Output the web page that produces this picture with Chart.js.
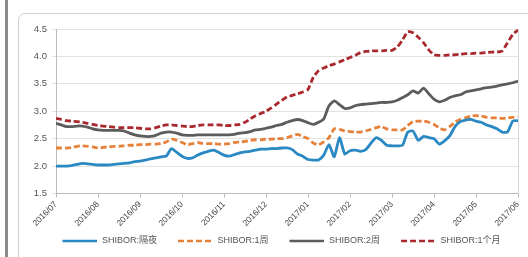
<!DOCTYPE html>
<html>
<head>
<meta charset="utf-8">
<script src="https://cdn.jsdelivr.net/npm/chart.js@4/dist/chart.umd.min.js"></script>
<style>
  html, body { margin: 0; padding: 0; background: #fff; }
  #wrap { position: relative; width: 528px; height: 257px; overflow: hidden; }
  #bar { position: absolute; left: 5px; top: 0; width: 3px; height: 257px; background: #8a8a8a; }
  #frame { position: absolute; left: 18px; top: 13px; width: 560px; height: 300px; border: 1px solid #d0d0d0; border-radius: 7px; }
  canvas { position: absolute; left: 0; top: 0; }
</style>
</head>
<body>
<div id="wrap">
  <div id="bar"></div>
  <div id="frame"></div>
  <canvas id="myChart" width="528" height="257"></canvas>
</div>
<script>
// month labels, one per tick
const months = ["2016/07", "2016/08", "2016/09", "2016/10", "2016/11", "2016/12",
                "2017/01", "2017/02", "2017/03", "2017/04", "2017/05", "2017/06"];

// values sampled every 1/8 month from 2016/07, one row per month
const overnight = [
    2.00, 2.00, 2.00, 2.01, 2.03, 2.05, 2.04, 2.03,
    2.02, 2.02, 2.02, 2.03, 2.04, 2.05, 2.06, 2.08,
    2.09, 2.11, 2.13, 2.15, 2.17, 2.18, 2.32, 2.25,
    2.18, 2.14, 2.15, 2.20, 2.24, 2.27, 2.29, 2.25,
    2.20, 2.18, 2.21, 2.24, 2.26, 2.27, 2.29, 2.31,
    2.31, 2.32, 2.32, 2.33, 2.33, 2.30, 2.22, 2.18,
    2.12, 2.11, 2.11, 2.20, 2.39, 2.17, 2.52, 2.22,
    2.28, 2.29, 2.27, 2.30, 2.42, 2.52, 2.47, 2.38,
    2.37, 2.37, 2.38, 2.62, 2.64, 2.47, 2.54, 2.52,
    2.50, 2.40, 2.46, 2.55, 2.72, 2.81, 2.84, 2.85,
    2.82, 2.80, 2.75, 2.72, 2.68, 2.62, 2.62, 2.82,
    2.83
];
const week1 = [
    2.33, 2.33, 2.33, 2.34, 2.36, 2.37, 2.36, 2.35,
    2.33, 2.34, 2.35, 2.36, 2.36, 2.37, 2.38, 2.38,
    2.39, 2.39, 2.40, 2.40, 2.41, 2.44, 2.49, 2.47,
    2.43, 2.39, 2.41, 2.43, 2.41, 2.41, 2.41, 2.40,
    2.40, 2.41, 2.43, 2.44, 2.45, 2.47, 2.48, 2.48,
    2.49, 2.49, 2.50, 2.50, 2.52, 2.55, 2.58, 2.54,
    2.50, 2.42, 2.39, 2.44, 2.52, 2.68, 2.67, 2.64,
    2.63, 2.62, 2.62, 2.64, 2.67, 2.70, 2.72, 2.68,
    2.66, 2.66, 2.66, 2.74, 2.81, 2.82, 2.82, 2.80,
    2.76, 2.70, 2.66, 2.72, 2.80, 2.85, 2.88, 2.91,
    2.92, 2.91, 2.89, 2.88, 2.88, 2.87, 2.88, 2.89,
    2.90
];
const week2 = [
    2.78, 2.75, 2.72, 2.72, 2.73, 2.73, 2.71, 2.68,
    2.66, 2.65, 2.65, 2.65, 2.65, 2.64, 2.60, 2.57,
    2.55, 2.54, 2.54, 2.56, 2.60, 2.62, 2.62, 2.60,
    2.57, 2.56, 2.56, 2.57, 2.57, 2.57, 2.57, 2.57,
    2.57, 2.57, 2.58, 2.60, 2.61, 2.63, 2.66, 2.67,
    2.69, 2.71, 2.74, 2.76, 2.80, 2.83, 2.85, 2.83,
    2.79, 2.76, 2.80, 2.86, 3.10, 3.19, 3.12, 3.05,
    3.06, 3.10, 3.12, 3.13, 3.14, 3.15, 3.16, 3.16,
    3.17, 3.20, 3.25, 3.30, 3.37, 3.33, 3.42, 3.32,
    3.22, 3.17, 3.20, 3.25, 3.28, 3.30, 3.35, 3.37,
    3.39, 3.41, 3.43, 3.44, 3.46, 3.48, 3.50, 3.52,
    3.55
];
const month1 = [
    2.87, 2.85, 2.83, 2.82, 2.81, 2.80, 2.78, 2.76,
    2.74, 2.73, 2.72, 2.71, 2.70, 2.70, 2.70, 2.70,
    2.69, 2.68, 2.68, 2.70, 2.73, 2.75, 2.75, 2.74,
    2.73, 2.72, 2.72, 2.74, 2.75, 2.75, 2.75, 2.75,
    2.74, 2.74, 2.75, 2.76, 2.80, 2.86, 2.92, 2.96,
    3.00, 3.06, 3.13, 3.20, 3.26, 3.29, 3.32, 3.35,
    3.40, 3.62, 3.74, 3.79, 3.83, 3.86, 3.90, 3.94,
    3.98, 4.02, 4.07, 4.09, 4.10, 4.10, 4.10, 4.11,
    4.11, 4.17, 4.30, 4.45, 4.43, 4.35, 4.25, 4.12,
    4.03, 4.02, 4.02, 4.03, 4.03, 4.04, 4.05, 4.05,
    4.06, 4.06, 4.07, 4.08, 4.08, 4.10, 4.25, 4.40,
    4.48
];

function toPoints(arr) {
    return arr.map((v, i) => ({ x: i / 8, y: v }));
}

// legend sample: short line with empty space on its left
function legendLine(color, dash) {
    const c = document.createElement('canvas');
    c.width = 50;
    c.height = 4;
    const g = c.getContext('2d');
    g.strokeStyle = color;
    g.lineWidth = 2.6;
    g.setLineDash(dash);
    g.beginPath();
    g.moveTo(15, 2);
    g.lineTo(50, 2);
    g.stroke();
    return c;
}

const fontFam = '"Liberation Sans", "Noto Sans CJK SC", sans-serif';
const colors = ['#2a88c2', '#e5813a', '#5c5c5c', '#a8282e'];
const dash = [6, 3];

const ctx = document.getElementById('myChart');
new Chart(ctx,
{
    type: 'line',
    data:
    {
        datasets:
        [
            { label: 'SHIBOR:隔夜', data: toPoints(overnight), borderColor: colors[0], borderWidth: 2.8,
              pointStyle: legendLine(colors[0], []) },
            { label: 'SHIBOR:1周', data: toPoints(week1), borderColor: colors[1], borderWidth: 2.8, borderDash: dash,
              pointStyle: legendLine(colors[1], dash) },
            { label: 'SHIBOR:2周', data: toPoints(week2), borderColor: colors[2], borderWidth: 2.8,
              pointStyle: legendLine(colors[2], []) },
            { label: 'SHIBOR:1个月', data: toPoints(month1), borderColor: colors[3], borderWidth: 2.8, borderDash: dash,
              pointStyle: legendLine(colors[3], dash) }
        ]
    },
    options:
    {
        responsive: false,
        animation: false,
        elements: { point: { radius: 0, hoverRadius: 0 }, line: { tension: 0.2 } },
        layout: { padding: { left: 20, top: 29, right: 0, bottom: 1.5 } },
        plugins:
        {
            tooltip: { enabled: false },
            legend:
            {
                position: 'bottom',
                labels:
                {
                    usePointStyle: true,
                    pointStyleWidth: 50,
                    padding: 6,
                    color: '#555',
                    font: { size: 9, family: fontFam }
                }
            }
        },
        scales:
        {
            x:
            {
                type: 'linear',
                min: 0,
                max: 11,
                afterFit: (s) => { s.height = 37; },
                ticks:
                {
                    stepSize: 1,
                    minRotation: 45,
                    maxRotation: 45,
                    padding: 2,
                    color: '#444',
                    font: { size: 8.5, family: fontFam },
                    callback: (v) => months[v]
                },
                grid: { drawOnChartArea: false, color: '#bbb', tickLength: 4 },
                border: { color: '#bbb' }
            },
            y:
            {
                min: 1.5,
                max: 4.5,
                afterFit: (s) => { s.width = 36; },
                ticks:
                {
                    stepSize: 0.5,
                    padding: 5,
                    color: '#555',
                    font: { size: 9.5, family: fontFam },
                    callback: (v) => v.toFixed(1)
                },
                grid: { color: '#e2e2e2', tickLength: 4 },
                border: { color: '#bbb' }
            },
            y2:
            {
                position: 'right',
                min: 1.5,
                max: 4.5,
                afterFit: (s) => { s.width = 10; },
                ticks: { display: false },
                grid: { drawOnChartArea: false, drawTicks: false },
                border: { color: '#d8d8d8' }
            }
        }
    }
});
</script>
</body>
</html>
